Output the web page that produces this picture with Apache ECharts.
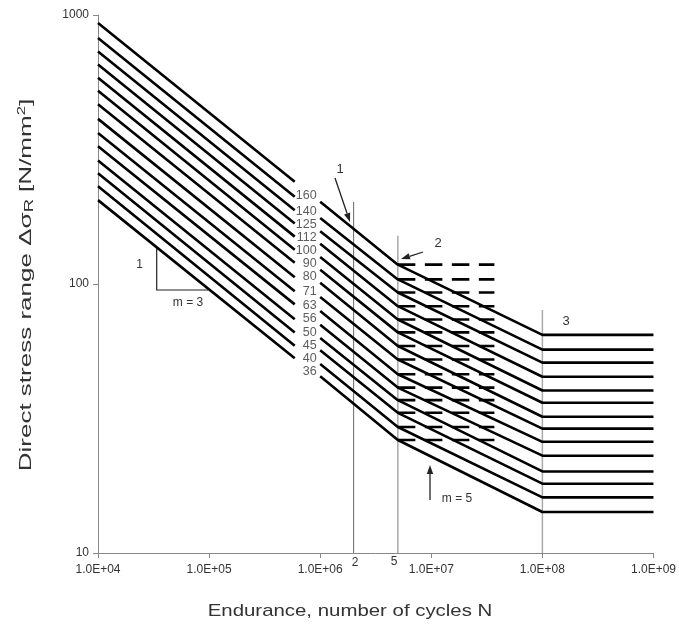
<!DOCTYPE html>
<html><head><meta charset="utf-8">
<script src="https://cdn.jsdelivr.net/npm/echarts@6/dist/echarts.min.js"></script>
<style>html,body{margin:0;padding:0;background:#fff}#c{width:679px;height:626px}</style>
</head><body><div id="c"></div>
<script>
// ---- data ----
const categories = [160,140,125,112,100,90,80,71,63,56,50,45,40,36];
const cyclesLeft = [1e4, 5.9e5];
const cyclesRight = [1e6, 5e6, 1e8, 1e9];
const cyclesDashed = [5e6, 3.7e7];
const stressAt1e4 = [933,821,731,654,584,523,466,411,364,325,288,258,231,205];
const stressLeftEnd = [240,211,188,168,150,134,120,106,94,84,74,66,59,53];
const stressAt1e6 = [202,176,157,141,126,113,101,89.5,79.4,70.6,63,56.7,50.4,45.4];
const stressAt5e6 = [118,104,93,82.7,73.8,66.1,58.8,52.4,46.2,41.2,37,33.2,29.4,26.3];
const stressAt1e8 = [64.7,57,51,45.2,40.2,36.2,32.1,29,25.9,23,20.1,18.1,16.1,14.2];
const labelCycles = 9.3e5;
const refCycles = [2e6, 5e6, 1e8];
const refTops = [202, 151, 80];
const xTickLabels = ['1.0E+04','1.0E+05','1.0E+06','1.0E+07','1.0E+08','1.0E+09'];
const yTickLabels = ['10','100','1000'];

const FONT = '"Liberation Sans", Arial, sans-serif';
const TXT = '#333';
const series = [];

// reference vertical lines
const refStyles = [{color:'#666', width:1}, {color:'#aaa', width:1.5}, {color:'#aaa', width:1.5}];
refCycles.forEach((n, i) => {
  series.push({type:'line', silent:true, symbol:'none', z:1,
    data:[[n,10],[n,refTops[i]]], lineStyle:refStyles[i]});
});

categories.forEach((c, i) => {
  const ls = {color:'#000', width:2.6};
  series.push({type:'line', silent:true, symbol:'none', z:3, lineStyle:ls,
    data: cyclesLeft.map((n,k) => [n, k===0 ? stressAt1e4[i] : stressLeftEnd[i]])});
  const rv = [stressAt1e6[i], stressAt5e6[i], stressAt1e8[i], stressAt1e8[i]];
  series.push({type:'line', silent:true, symbol:'none', z:3, lineStyle:ls,
    data: cyclesRight.map((n,k) => [n, rv[k]])});
  series.push({type:'line', silent:true, symbol:'none', z:3,
    lineStyle:{color:'#000', width:2.6, type:[17.5, 9.5], cap:'butt'},
    data: cyclesDashed.map(n => [n, stressAt5e6[i]])});
});

// category labels
series.push({type:'scatter', silent:true, symbolSize:0, z:4,
  data: categories.map((c,i) => ({name:String(c), value:[labelCycles, Math.sqrt(stressLeftEnd[i]*stressAt1e6[i])]})),
  label:{show:true, position:'left', distance:0, offset:[0,4], formatter:p => p.name,
    fontFamily:FONT, fontSize:12.5, color:TXT}});

function arrow(x1,y1,x2,y2){
  const a = Math.atan2(y2-y1, x2-x1), L = 9, W = 3.2;
  const bx = x2 - L*Math.cos(a), by = y2 - L*Math.sin(a);
  const px = -Math.sin(a)*W, py = Math.cos(a)*W;
  return [
    {type:'line', silent:true, shape:{x1,y1,x2:bx,y2:by}, style:{stroke:'#222', lineWidth:1.3}},
    {type:'polygon', silent:true, shape:{points:[[x2,y2],[bx+px,by+py],[bx-px,by-py]]}, style:{fill:'#222'}}
  ];
}
function txt(x,y,t,size){
  return {type:'text', silent:true, x, y, style:{text:t, fontFamily:FONT, fontSize:size||13, fill:TXT,
    textAlign:'center', textVerticalAlign:'middle', align:'center', verticalAlign:'middle'}};
}

const graphic = [
  // slope triangle
  {type:'polyline', silent:true, shape:{points:[[156.7,248],[156.7,290],[208,290]]}, style:{stroke:'#222', lineWidth:1.2, fill:null}},
  txt(139.5,265,'1',12), txt(188,303,'m = 3',12),
  ...arrow(335,178,350,222), txt(340,169,'1',13),
  ...arrow(423,252,401,259), txt(438,243,'2',13),
  txt(566,321,'3',13),
  ...arrow(430,500,430,465), txt(457,499,'m = 5',12),
  txt(355,563,'2',12), txt(394,562,'5',12),
  {type:'text', silent:true, x:350, y:611, scaleX:1.2,
    style:{text:'Endurance, number of cycles N', fontFamily:FONT, fontSize:17, fill:TXT,
      textAlign:'center', textVerticalAlign:'middle', align:'center', verticalAlign:'middle'}},
  {type:'text', silent:true, x:26, y:285, rotation:Math.PI/2, scaleX:1.53,
    style:{text:'{a|Direct stress range Δσ}{s|R}{a| [N/mm}{p|2}{a|]}', fontFamily:FONT, fill:TXT,
      textAlign:'center', textVerticalAlign:'middle', align:'center', verticalAlign:'middle',
      rich:{a:{fontSize:17, lineHeight:20, fontFamily:FONT, fill:TXT, color:TXT},
            s:{fontSize:12, lineHeight:20, fontFamily:FONT, fill:TXT, color:TXT, verticalAlign:'bottom'},
            p:{fontSize:11, lineHeight:20, fontFamily:FONT, fill:TXT, color:TXT, verticalAlign:'top'}}}}
];

const chart = echarts.init(document.getElementById('c'), null, {renderer:'canvas'});
chart.setOption({
  animation:false,
  backgroundColor:'#fff',
  grid:{left:98, right:25, top:15, bottom:73, containLabel:false},
  xAxis:{type:'log', logBase:10, min:1e4, max:1e9,
    axisLine:{lineStyle:{color:'#888', width:1}},
    axisTick:{show:true, length:5, lineStyle:{color:'#888'}},
    minorTick:{show:false}, splitLine:{show:false},
    axisLabel:{fontFamily:FONT, fontSize:12, color:TXT, margin:11,
      formatter:v => xTickLabels[Math.round(Math.log10(v))-4] || ''}},
  yAxis:{type:'log', logBase:10, min:10, max:1000,
    axisLine:{show:true, lineStyle:{color:'#888', width:1}},
    axisTick:{show:true, length:5, lineStyle:{color:'#888'}},
    minorTick:{show:false}, splitLine:{show:false},
    axisLabel:{fontFamily:FONT, fontSize:12, color:TXT, margin:9,
      formatter:v => yTickLabels[Math.round(Math.log10(v))-1] || ''}},
  series,
  graphic
});
</script></body></html>
